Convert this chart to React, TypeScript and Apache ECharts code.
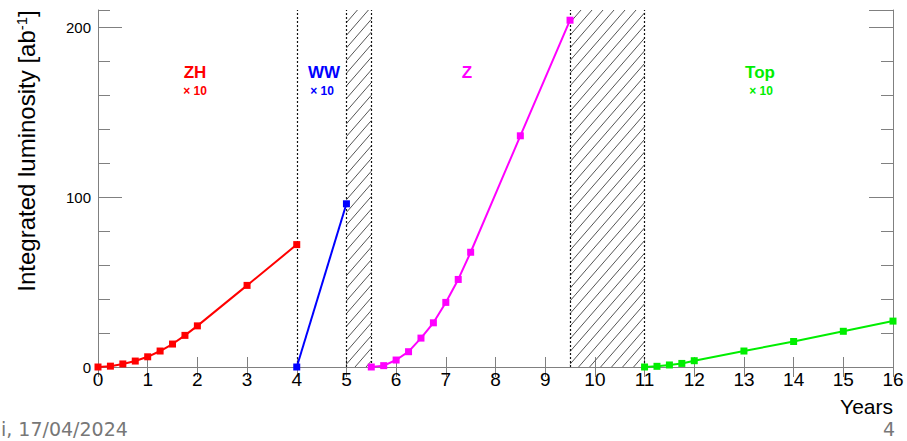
import React, { useEffect, useRef } from "react";
import * as echarts from "echarts";

// ---- data ----
const zhYears = [0, 0.25, 0.5, 0.75, 1, 1.25, 1.5, 1.75, 2, 3, 4];
const zhLumi = [0, 0.5, 1.8, 3.5, 6, 9.4, 13.5, 18.6, 24.2, 48, 72];
const wwYears = [4, 5];
const wwLumi = [0, 96];
const zYears = [5.5, 5.75, 6, 6.25, 6.5, 6.75, 7, 7.25, 7.5, 8.5, 9.5];
const zLumi = [0, 0.8, 4.1, 9, 17, 26, 38, 51.5, 67.5, 136, 204];
const topYears = [11, 11.25, 11.5, 11.75, 12, 13, 14, 15, 16];
const topLumi = [0, 0.4, 1.2, 2.1, 3.7, 9.4, 15, 21, 27];
const phaseBoundaries = [4, 5, 5.5, 9.5, 11];
const shutdownPeriods = [
  [5, 5.5],
  [9.5, 11],
];
const xTicks = { min: 0, max: 16, step: 1 };
const yTicks = { min: 0, max: 210, major: 100, minor: 20 };

const FONT = "Liberation Sans, Arial, Helvetica, sans-serif";
const AXIS_COLOR = "#808080";

const pairs = (xs: number[], ys: number[]) => xs.map((x, i) => [x, ys[i]]);

function lineSeries(name: string, xs: number[], ys: number[], color: string, extra: any = {}) {
  return {
    name,
    type: "line",
    data: pairs(xs, ys),
    symbol: "rect",
    symbolSize: 7,
    lineStyle: { color, width: 2 },
    itemStyle: { color },
    z: 5,
    ...extra,
  };
}

export default function App() {
  const ref = useRef<HTMLDivElement>(null);
  useEffect(() => {
    if (!ref.current) return;
    const chart = echarts.init(ref.current, undefined, { renderer: "svg" });

    const baseX = {
      type: "value",
      min: xTicks.min,
      max: xTicks.max,
      interval: xTicks.step,
      splitLine: { show: false },
    };
    const baseY = {
      type: "value",
      min: yTicks.min,
      max: yTicks.max,
      splitLine: { show: false },
    };

    const option: any = {
      animation: false,
      textStyle: { fontFamily: FONT },
      grid: { left: 98, right: 14, top: 10, bottom: 74, show: false },
      xAxis: [
        {
          ...baseX,
          position: "bottom",
          axisLine: { show: true, lineStyle: { color: AXIS_COLOR, width: 1 } },
          axisTick: { show: true, inside: true, length: 10, lineStyle: { color: AXIS_COLOR } },
          axisLabel: { show: true, color: "#000", fontSize: 19, margin: 3, fontFamily: FONT },
        },
        {
          ...baseX,
          position: "top",
          axisLine: { show: true, lineStyle: { color: AXIS_COLOR, width: 1 } },
          axisTick: { show: true, inside: true, length: 10, lineStyle: { color: AXIS_COLOR } },
          axisLabel: { show: false },
        },
      ],
      yAxis: [
        {
          ...baseY,
          position: "left",
          interval: yTicks.major,
          axisLine: { show: true, lineStyle: { color: AXIS_COLOR, width: 1 } },
          axisTick: { show: true, inside: true, length: 24, lineStyle: { color: AXIS_COLOR } },
          axisLabel: {
            show: true,
            color: "#000",
            fontSize: 15,
            margin: 7,
            fontFamily: FONT,
            showMaxLabel: false,
            formatter: (v: number) => (v % yTicks.major === 0 ? String(v) : ""),
          },
        },
        {
          ...baseY,
          position: "left",
          interval: yTicks.minor,
          axisLine: { show: false },
          axisTick: { show: true, inside: true, length: 12, lineStyle: { color: AXIS_COLOR } },
          axisLabel: { show: false },
        },
        {
          ...baseY,
          position: "right",
          interval: yTicks.major,
          axisLine: { show: true, lineStyle: { color: AXIS_COLOR, width: 1 } },
          axisTick: { show: true, inside: true, length: 24, lineStyle: { color: AXIS_COLOR } },
          axisLabel: { show: false },
        },
        {
          ...baseY,
          position: "right",
          interval: yTicks.minor,
          axisLine: { show: false },
          axisTick: { show: true, inside: true, length: 12, lineStyle: { color: AXIS_COLOR } },
          axisLabel: { show: false },
        },
      ],
      series: [
        {
          type: "custom",
          name: "shutdown",
          data: shutdownPeriods,
          clip: false,
          z: 1,
          renderItem: (params: any, api: any) => {
            const cs = params.coordSys;
            const xa = api.coord([api.value(0), 0])[0];
            const xb = api.coord([api.value(1), 0])[0];
            const y0 = cs.y;
            const y1 = cs.y + cs.height;
            const k = 1.15;
            const d = 11;
            const h = y1 - y0;
            const children: any[] = [];
            const startB = xa - h / k;
            for (let b = startB; b < xb; b += d) {
              const lo = Math.max(b, xa);
              const hi = Math.min(b + h / k, xb);
              if (hi - lo <= 0.5) continue;
              children.push({
                type: "line",
                shape: { x1: lo, y1: y1 - k * (lo - b), x2: hi, y2: y1 - k * (hi - b) },
                style: { stroke: "#555", lineWidth: 1 },
              });
            }
            return { type: "group", children };
          },
        },
        lineSeries("ZH", zhYears, zhLumi, "#ff0000", {
          markLine: {
            silent: true,
            symbol: ["none", "none"],
            label: { show: false },
            lineStyle: { type: [2, 2], color: "#111", width: 1.2 },
            data: phaseBoundaries.map((v) => ({ xAxis: v })),
            z: 2,
          },
        }),
        lineSeries("WW", wwYears, wwLumi, "#0000ff"),
        lineSeries("Z", zYears, zLumi, "#ff00ff"),
        lineSeries("Top", topYears, topLumi, "#00ee00"),
      ],
      graphic: [
        {
          type: "text",
          x: 26,
          y: 151,
          rotation: Math.PI / 2,
          style: {
            text: "{a|Integrated luminosity [ab}{s|-1}{a|]}",
            align: "center",
            verticalAlign: "middle",
            rich: {
              a: { fontSize: 24, fontFamily: FONT, fill: "#000" },
              s: { fontSize: 15, fontFamily: FONT, fill: "#000", verticalAlign: "top", padding: [0, 0, 10, 0] },
            },
          },
        },
        {
          type: "text",
          x: 893,
          y: 406,
          style: { text: "Years", fontSize: 21, fontFamily: FONT, fill: "#000", align: "right", verticalAlign: "middle" },
        },
        // phase labels
        { type: "text", x: 195, y: 72, style: { text: "ZH", fontSize: 17, fontWeight: "bold", fontFamily: FONT, fill: "#ff0000", align: "center", verticalAlign: "middle" } },
        { type: "text", x: 195, y: 91, style: { text: "× 10", fontSize: 12, fontWeight: "bold", fontFamily: FONT, fill: "#ff0000", align: "center", verticalAlign: "middle" } },
        { type: "text", x: 324, y: 72, style: { text: "WW", fontSize: 17, fontWeight: "bold", fontFamily: FONT, fill: "#0000ff", align: "center", verticalAlign: "middle" } },
        { type: "text", x: 322, y: 91, style: { text: "× 10", fontSize: 12, fontWeight: "bold", fontFamily: FONT, fill: "#0000ff", align: "center", verticalAlign: "middle" } },
        { type: "text", x: 467, y: 72, style: { text: "Z", fontSize: 17, fontWeight: "bold", fontFamily: FONT, fill: "#ff00ff", align: "center", verticalAlign: "middle" } },
        { type: "text", x: 760, y: 72, style: { text: "Top", fontSize: 17, fontWeight: "bold", fontFamily: FONT, fill: "#00ee00", align: "center", verticalAlign: "middle" } },
        { type: "text", x: 761, y: 91, style: { text: "× 10", fontSize: 12, fontWeight: "bold", fontFamily: FONT, fill: "#00ee00", align: "center", verticalAlign: "middle" } },
        // slide footer remnants
        { type: "text", x: 1, y: 429, style: { text: "i, 17/04/2024", fontSize: 19, fontFamily: "DejaVu Sans", fill: "#777", align: "left", verticalAlign: "middle" } },
        { type: "text", x: 889, y: 429, style: { text: "4", fontSize: 19, fontFamily: "DejaVu Sans", fill: "#777", align: "center", verticalAlign: "middle" } },
      ],
    };
    chart.setOption(option);
    return () => chart.dispose();
  }, []);
  return <div ref={ref} style={{ position: "fixed", left: 0, top: 0, width: 907, height: 441, background: "#fff" }} />;
}
